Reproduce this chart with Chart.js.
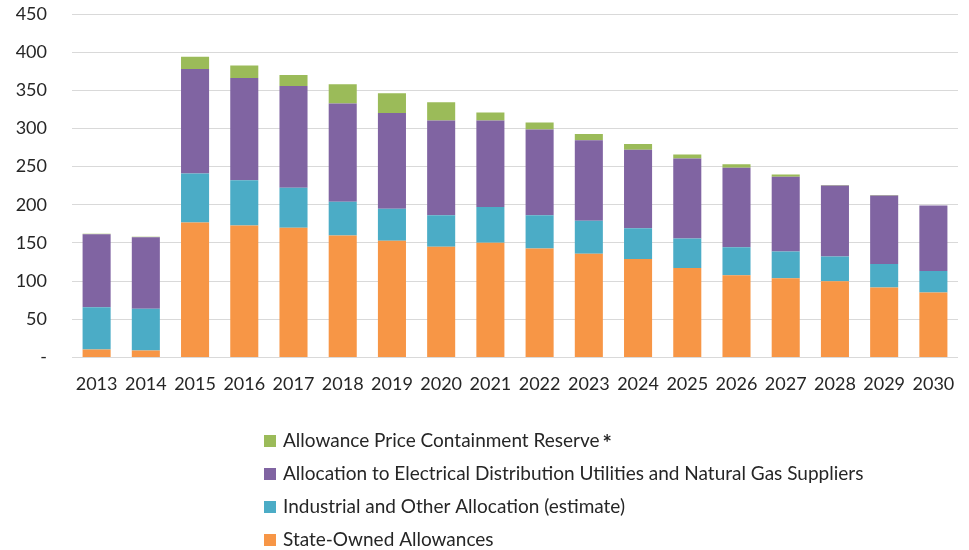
<!DOCTYPE html>
<html>
<head>
<meta charset="utf-8">
<script src="https://cdn.jsdelivr.net/npm/chart.js@4.4.1/dist/chart.umd.min.js"></script>
<style>
  html, body { margin: 0; padding: 0; background: #fff; }
  #wrap { width: 969px; height: 550px; }
</style>
</head>
<body>
<div id="wrap"><canvas id="chart"></canvas></div>
<script>
const years = ['2013', '2014', '2015', '2016', '2017', '2018', '2019', '2020', '2021',
  '2022', '2023', '2024', '2025', '2026', '2027', '2028', '2029', '2030'];

const stateOwned = [10.5, 9.2, 176.8, 172.9, 169.8, 159.7, 152.7, 144.9, 150.1,
  142.7, 135.7, 129.1, 117.3, 107.7, 103.7, 99.8, 91.5, 84.9];
const industrial = [55.1, 54.7, 64.2, 59.1, 52.5, 44.3, 42.0, 41.5, 46.9,
  43.7, 43.3, 40.3, 38.5, 36.7, 35.0, 32.4, 31.0, 28.4];
const utilities = [95.9, 93.6, 137.0, 134.0, 133.5, 128.6, 125.7, 123.9, 113.3,
  112.1, 105.5, 102.8, 105.0, 104.2, 98.1, 93.2, 89.8, 85.8];
const reserve = [0.5, 0.5, 16.0, 16.5, 14.4, 25.4, 25.8, 24.1, 10.5,
  9.2, 8.3, 7.4, 5.2, 4.4, 3.0, 0.4, 0.4, 0];

const yTicks = [0, 50, 100, 150, 200, 250, 300, 350, 400, 450];

const FONT = 'Lato, "Open Sans", sans-serif';

// legend drawn by hand: vertical list, top series first
const stackLegend = {
    id: 'stackLegend',
    afterDraw(chart) {
        const ctx = chart.ctx;
        const sets = chart.data.datasets.slice().reverse();
        ctx.save();
        ctx.font = '19px ' + FONT;
        ctx.textBaseline = 'middle';
        sets.forEach((ds, i) => {
            const y = 441 + i * 33;
            ctx.fillStyle = ds.backgroundColor;
            ctx.fillRect(264, y - 6, 12, 12);
            ctx.fillStyle = '#262626';
            ctx.fillText(ds.label, 283, y);
            if (ds.star) {
                const w = ctx.measureText(ds.label).width;
                ctx.font = 'bold 22px ' + FONT;
                ctx.fillText('*', 283 + w + 3, y + 3);
                ctx.font = '19px ' + FONT;
            }
        });
        ctx.restore();
    }
};

new Chart(document.getElementById('chart'), {
    type: 'bar',
    data: {
        labels: years,
        datasets: [
            { label: 'State-Owned Allowances', data: stateOwned, backgroundColor: '#F79646' },
            { label: 'Industrial and Other Allocation (estimate)', data: industrial, backgroundColor: '#4BACC6' },
            { label: 'Allocation to Electrical Distribution Utilities and Natural Gas Suppliers', data: utilities, backgroundColor: '#8064A2' },
            { label: 'Allowance Price Containment Reserve', data: reserve, backgroundColor: '#9BBB59', star: true }
        ]
    },
    options: {
        responsive: true,
        maintainAspectRatio: false,
        animation: false,
        layout: { padding: { top: 14, right: 11, bottom: 147, left: 0 } },
        datasets: { bar: { categoryPercentage: 1, barPercentage: 0.57, borderWidth: 0 } },
        plugins: {
            legend: { display: false },
            tooltip: { enabled: false }
        },
        scales: {
            x: {
                stacked: true,
                grid: { display: false },
                border: { display: false },
                ticks: { color: '#262626', font: { family: FONT, size: 18 }, padding: 8, maxRotation: 0 }
            },
            y: {
                stacked: true,
                min: 0,
                max: 450,
                afterBuildTicks: (s) => { s.ticks = yTicks.map(v => ({ value: v })); },
                // fixed axis width; drop the extra top space the tick padding adds
                afterFit: (s) => { s.width = 72; s.paddingTop = 0; },
                grid: { color: '#d9d9d9', lineWidth: 1, drawTicks: false },
                border: { display: false },
                ticks: {
                    color: '#262626',
                    font: { family: FONT, size: 18 },
                    padding: 25,
                    callback: (v) => v === 0 ? '-' : v
                }
            }
        }
    },
    plugins: [stackLegend]
});
</script>
</body>
</html>
